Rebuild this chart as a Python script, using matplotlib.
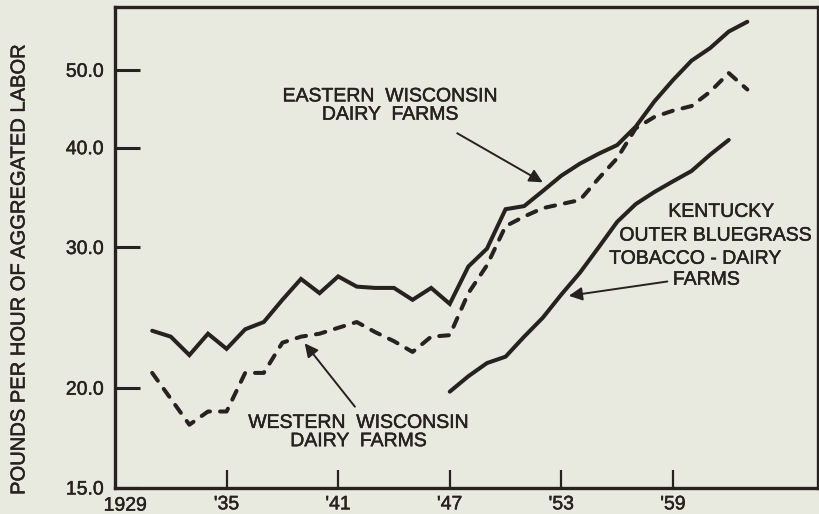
import matplotlib
matplotlib.use("Agg")
import matplotlib.pyplot as plt
import matplotlib.patheffects as pe

# Datos (libras por hora de trabajo agregado)
anios_wisconsin = list(range(1931, 1964))
este_wisconsin = [23.6, 23.2, 22.0, 23.4, 22.4, 23.7, 24.2, 25.8, 27.4, 26.3,
                  27.6, 26.8, 26.7, 26.7, 25.8, 26.7, 25.5, 28.4, 29.9, 33.5,
                  33.8, 35.3, 36.9, 38.2, 39.3, 40.3, 42.5, 45.7, 48.6, 51.4,
                  53.3, 55.9, 57.5]
oeste_wisconsin = [20.9, 19.4, 18.0, 18.7, 18.7, 20.9, 20.9, 22.8, 23.2, 23.4,
                   23.8, 24.2, 23.5, 22.9, 22.2, 23.2, 23.3, 26.3, 28.5, 31.9,
                   32.8, 33.6, 34.0, 34.4, 36.6, 38.8, 42.3, 43.7, 44.5, 45.1,
                   47.0, 49.6, 47.3]
anios_kentucky = list(range(1947, 1963))
kentucky = [19.8, 20.7, 21.5, 21.9, 23.2, 24.5, 26.2, 27.9, 30.0, 32.3,
            34.0, 35.2, 36.3, 37.4, 39.2, 40.9]

ticks_y = [15, 20, 30, 40, 50]
etiquetas_y = ['15.0', '20.0', '30.0', '40.0', '50.0']
ticks_x = [1935, 1941, 1947, 1953, 1959]
etiquetas_x = ["'35", "'41", "'47", "'53", "'59"]

fondo = '#e9eadf'
tinta = '#26221f'
plt.rcParams['font.family'] = ['Liberation Sans', 'DejaVu Sans']
# Trazo un poco mas grueso, como la rotulacion a mano del original
grueso = [pe.withStroke(linewidth=0.35, foreground=tinta)]

fig = plt.figure(figsize=(8.19, 5.14), dpi=100, facecolor=fondo)
ax = fig.add_axes([0.1404, 0.0506, 0.8584, 0.9358])
ax.set_facecolor(fondo)

# Series
ax.plot(anios_wisconsin, este_wisconsin, color=tinta, lw=2.9,
        solid_joinstyle='miter', solid_capstyle='round')
ax.plot(anios_wisconsin, oeste_wisconsin, color=tinta, lw=2.9,
        dashes=(2.4, 2.5), dash_capstyle='round')
ax.plot(anios_kentucky, kentucky, color=tinta, lw=2.9,
        solid_joinstyle='miter', solid_capstyle='round')

# Ejes
ax.set_yscale('log')
ax.set_ylim(15, 60)
ax.set_xlim(1929, 1966.8)
ax.set_yticks(ticks_y)
ax.set_yticklabels(etiquetas_y)
ax.yaxis.set_minor_locator(matplotlib.ticker.NullLocator())
ax.set_xticks(ticks_x)
ax.set_xticklabels(etiquetas_x)

ax.tick_params(axis='y', direction='in', length=18, width=2.2, pad=8,
               labelsize=14, colors=tinta)
ax.tick_params(axis='x', direction='in', length=13, width=1.6, pad=6,
               labelsize=14, colors=tinta)
for s in ax.spines.values():
    s.set_linewidth(2.4)
    s.set_color(tinta)
for t in ax.get_xticklabels() + ax.get_yticklabels():
    t.set_path_effects(grueso)

ax.text(1929.55, -0.02, '1929', transform=ax.get_xaxis_transform(),
        ha='center', va='top', fontsize=14, color=tinta, path_effects=grueso)

ax.set_ylabel('POUNDS PER HOUR OF AGGREGATED LABOR', fontsize=14.5, color=tinta,
              path_effects=grueso)
ax.yaxis.set_label_coords(-0.123, 0.453)

# Anotaciones
flecha = dict(arrowstyle='-|>', color=tinta, lw=1.4, mutation_scale=20,
              shrinkA=0, shrinkB=0)
ax.text(1943.8, 45.1, 'EASTERN  WISCONSIN\nDAIRY  FARMS', ha='center', va='center',
        fontsize=14, color=tinta, linespacing=1.1, path_effects=grueso)
ax.annotate('', xy=(1952.0, 36.2), xytext=(1947.4, 41.7), arrowprops=flecha)

ax.text(1942.1, 17.6, 'WESTERN  WISCONSIN\nDAIRY  FARMS', ha='center', va='center',
        fontsize=14, color=tinta, linespacing=1.1, path_effects=grueso)
ax.annotate('', xy=(1939.2, 22.76), xytext=(1941.9, 18.96), arrowprops=flecha)

ax.text(1961.6, 33.2, 'KENTUCKY', ha='center', va='center', fontsize=14,
        color=tinta, path_effects=grueso)
ax.text(1961.3, 31.0, 'OUTER BLUEGRASS', ha='center', va='center', fontsize=14,
        color=tinta, path_effects=grueso)
ax.text(1960.2, 29.0, 'TOBACCO - DAIRY', ha='center', va='center', fontsize=14,
        color=tinta, path_effects=grueso)
ax.text(1960.8, 27.3, 'FARMS', ha='center', va='center', fontsize=14,
        color=tinta, path_effects=grueso)
ax.annotate('', xy=(1953.4, 26.1), xytext=(1958.7, 27.2), arrowprops=flecha)

fig.savefig('out.png', dpi=100, facecolor=fondo)
